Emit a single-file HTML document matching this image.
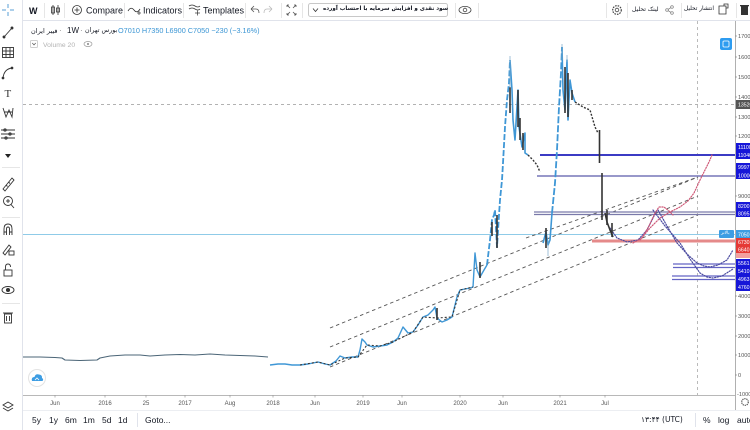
<!DOCTYPE html>
<html><head><meta charset="utf-8">
<style>
html,body{margin:0;padding:0;background:#fff;}
body{width:750px;height:430px;position:relative;overflow:hidden;font-family:"Liberation Sans","DejaVu Sans",sans-serif;}
.fa{position:absolute;font-family:"DejaVu Sans","Liberation Sans",sans-serif;direction:ltr;text-align:left;white-space:nowrap;color:#131722;line-height:1;}
svg{position:absolute;left:0;top:0;}
</style></head><body>
<svg width="750" height="430" viewBox="0 0 750 430" font-family="Liberation Sans, DejaVu Sans, sans-serif">
<rect width="750" height="430" fill="#fff"/>
<!-- frame lines -->
<line x1="22" y1="20.5" x2="750" y2="20.5" stroke="#e0e3eb"/>
<line x1="22.5" y1="0" x2="22.5" y2="430" stroke="#e0e3eb"/>
<line x1="23" y1="395.5" x2="735" y2="395.5" stroke="#b8b8b8"/>
<line x1="23" y1="410.5" x2="750" y2="410.5" stroke="#eceef2"/>
<line x1="735.5" y1="21" x2="735.5" y2="410" stroke="#b0b0b0"/>
<!-- left toolbar separators -->
<line x1="2" y1="167.5" x2="20" y2="167.5" stroke="#e6e6e6"/>
<line x1="2" y1="217.5" x2="20" y2="217.5" stroke="#e6e6e6"/>
<line x1="2" y1="303.5" x2="20" y2="303.5" stroke="#e6e6e6"/>

<!-- top toolbar -->
<g stroke="#5a9fd4" stroke-width="1">
<line x1="2" y1="10" x2="6" y2="10"/><line x1="10" y1="10" x2="14" y2="10"/>
<line x1="8" y1="4" x2="8" y2="8"/><line x1="8" y1="12" x2="8" y2="16"/>
</g>
<text x="29" y="14" font-size="9" font-weight="bold" fill="#131722">W</text>
<line x1="44.5" y1="3" x2="44.5" y2="18" stroke="#e6e6e6"/>
<g stroke="#333" fill="none" stroke-width="0.8">
<line x1="53" y1="5" x2="53" y2="15"/><rect x="51.5" y="7" width="3" height="6"/>
<line x1="58" y1="5" x2="58" y2="15"/><rect x="56.5" y="8" width="3" height="4"/>
</g>
<line x1="64.5" y1="3" x2="64.5" y2="18" stroke="#e6e6e6"/>
<circle cx="77" cy="10" r="4.5" fill="none" stroke="#333" stroke-width="0.8"/>
<line x1="74.5" y1="10" x2="79.5" y2="10" stroke="#333" stroke-width="0.8"/><line x1="77" y1="7.5" x2="77" y2="12.5" stroke="#333" stroke-width="0.8"/>
<text x="86" y="13.5" font-size="9" fill="#131722">Compare</text>
<line x1="124.5" y1="3" x2="124.5" y2="18" stroke="#e6e6e6"/>
<path d="M128 11 Q131 6 134 10 T140 9" fill="none" stroke="#333" stroke-width="0.8"/>
<line x1="137" y1="13" x2="141" y2="13" stroke="#333" stroke-width="0.7"/><line x1="139" y1="11" x2="139" y2="15" stroke="#333" stroke-width="0.7"/>
<text x="143" y="13.5" font-size="9" fill="#131722">Indicators</text>
<line x1="183.5" y1="3" x2="183.5" y2="18" stroke="#e6e6e6"/>
<path d="M189 6 Q192 4 195 6 T200 6 M189 9 Q192 7 195 9 T200 9" fill="none" stroke="#333" stroke-width="0.8"/>
<line x1="195" y1="13" x2="200" y2="13" stroke="#333" stroke-width="0.7"/><line x1="197.5" y1="10.5" x2="197.5" y2="15.5" stroke="#333" stroke-width="0.7"/>
<text x="203" y="13.5" font-size="9" fill="#131722">Templates</text>
<line x1="245.5" y1="3" x2="245.5" y2="18" stroke="#e6e6e6"/>
<path d="M251 9 L254 6 M251 9 L254 12 M251 9 H256 Q259 9 259 13" fill="none" stroke="#555" stroke-width="0.8"/>
<path d="M272 9 L269 6 M272 9 L269 12 M272 9 H267 Q264 9 264 13" fill="none" stroke="#bbb" stroke-width="0.8"/>
<line x1="281.5" y1="3" x2="281.5" y2="18" stroke="#e6e6e6"/>
<g stroke="#555" stroke-width="0.8" fill="none">
<path d="M287 5 L290 8 M287 5 h2 M287 5 v2"/><path d="M296 5 L293 8 M296 5 h-2 M296 5 v2"/>
<path d="M287 15 L290 12 M287 15 h2 M287 15 v-2"/><path d="M296 15 L293 12 M296 15 h-2 M296 15 v-2"/>
</g>
<line x1="302.5" y1="3" x2="302.5" y2="18" stroke="#e6e6e6"/>
<rect x="308.5" y="3.5" width="139" height="13" rx="2" fill="#fff" stroke="#c8c8c8"/>
<path d="M313 8.5 L315.5 11.5 L318 8.5" fill="none" stroke="#333" stroke-width="0.8"/>
<line x1="455.5" y1="3" x2="455.5" y2="18" stroke="#e6e6e6"/>
<ellipse cx="465" cy="10" rx="6" ry="3.6" fill="none" stroke="#444" stroke-width="0.8"/>
<circle cx="465" cy="10" r="1.8" fill="none" stroke="#444" stroke-width="0.8"/>
<line x1="478.5" y1="3" x2="478.5" y2="18" stroke="#e6e6e6"/>
<line x1="606.5" y1="3" x2="606.5" y2="18" stroke="#e6e6e6"/>
<circle cx="617" cy="10" r="4.3" fill="none" stroke="#444" stroke-width="1.2" stroke-dasharray="1.6 1"/>
<circle cx="617" cy="10" r="1.8" fill="none" stroke="#444" stroke-width="0.8"/>
<line x1="627.5" y1="3" x2="627.5" y2="18" stroke="#e6e6e6"/>
<g fill="none" stroke="#777" stroke-width="0.7">
<circle cx="667" cy="10" r="1.3"/><circle cx="672" cy="7" r="1.3"/><circle cx="672" cy="13" r="1.3"/>
<line x1="668" y1="9.4" x2="671" y2="7.6"/><line x1="668" y1="10.6" x2="671" y2="12.4"/>
</g>
<line x1="681.5" y1="3" x2="681.5" y2="18" stroke="#e6e6e6"/>
<path d="M719 6 H726 V14 H719 Z M724 6 V4 H728 V8 H726" fill="none" stroke="#333" stroke-width="0.8"/>
<line x1="736.5" y1="3" x2="736.5" y2="18" stroke="#e6e6e6"/>
<rect x="741" y="6" width="7" height="9" fill="#333"/><rect x="740" y="5" width="9" height="1.3" fill="#333"/>

<!-- left toolbar icons -->
<g stroke="#333" stroke-width="0.9" fill="none">
<line x1="4" y1="37" x2="12" y2="28"/><circle cx="4" cy="37" r="1" fill="#333"/><circle cx="12" cy="28" r="1" fill="#333"/>
<rect x="2.5" y="47.5" width="11" height="10"/><line x1="2.5" y1="51" x2="13.5" y2="51"/><line x1="2.5" y1="54.5" x2="13.5" y2="54.5"/><line x1="6" y1="47.5" x2="6" y2="57.5"/><line x1="10" y1="47.5" x2="10" y2="57.5"/>
<path d="M3 78 Q4 69 12 68"/><circle cx="3" cy="78" r="0.9" fill="#333"/><circle cx="12" cy="68" r="0.9" fill="#333"/>
<path d="M3 108 L6 117 L9 110 L12 117 L13 108 M4 112 L12 112"/>
<path d="M1 130 H15 M1 134 H15 M1 138 H15"/><circle cx="5" cy="130" r="1.2"/><circle cx="10" cy="134" r="1.2"/><circle cx="6" cy="138" r="1.2"/>
<path d="M3 189 L12 178 L14 180 L5 191 Z M6 185 l1.5 1.5 M8.5 182 l1.5 1.5"/>
<circle cx="8" cy="201" r="4.5"/><line x1="11" y1="204.5" x2="14" y2="208"/><line x1="6" y1="201" x2="10" y2="201"/><line x1="8" y1="199" x2="8" y2="203"/>
<path d="M4 235 V229 Q4 224 8 224 Q12 224 12 229 V235 M4 232 H6.5 M9.5 232 H12 M6.5 235 V229 Q6.5 227 8 227 Q9.5 227 9.5 229 V235"/>
<path d="M3 253 L9 245 L11 247 L5 255 Z"/><rect x="9" y="251" width="5" height="4"/>
<rect x="4" y="270" width="8" height="6"/><path d="M5.5 270 V267 Q5.5 264 8 264 Q10.5 264 10.5 267"/>
<ellipse cx="8" cy="290" rx="6" ry="3.5"/><circle cx="8" cy="290" r="1.6" fill="#333"/>
<rect x="4.5" y="314" width="7" height="9"/><line x1="3" y1="313" x2="13" y2="313"/><line x1="6.5" y1="316" x2="6.5" y2="321"/><line x1="9.5" y1="316" x2="9.5" y2="321"/>
<path d="M3 405 L8 402 L13 405 L8 408 Z M3 408 L8 411 L13 408"/>
</g>
<path d="M5 154 L11 154 L8 158 Z" fill="#222"/>
<text x="4.5" y="97" font-size="11" fill="#333" font-family="Liberation Serif, serif">T</text>

<!-- legend -->
<text x="59" y="33" font-size="8" fill="#888">·</text>
<text x="67" y="33" font-size="8" fill="#131722">1W</text>
<text x="80" y="33" font-size="8" fill="#888">·</text>
<text x="118" y="33" font-size="7.3" fill="#3a95d4">O7010 H7350 L6900 C7050 −230 (−3.16%)</text>
<rect x="30.5" y="40.5" width="7" height="7" rx="1" fill="#fff" stroke="#cfcfcf"/>
<path d="M32.3 43 L34 45 L35.7 43" fill="none" stroke="#555" stroke-width="0.7"/>
<text x="43" y="47" font-size="6.8" fill="#b3b3b3">Volume 20</text>
<ellipse cx="88" cy="44" rx="4" ry="2.5" fill="none" stroke="#999" stroke-width="0.7"/><circle cx="88" cy="44" r="1.1" fill="#999"/>

<!-- right axis ticks and labels -->
<g fill="#555" font-size="5.6">
<text x="738" y="38">17000</text><text x="738" y="59">16000</text><text x="738" y="79">15000</text>
<text x="738" y="99">14000</text><text x="738" y="119">13000</text><text x="738" y="138">12000</text>
<text x="738" y="198">9000</text><text x="738" y="298">4000</text><text x="738" y="318">3000</text>
<text x="738" y="338">2000</text><text x="738" y="357">1000</text><text x="738" y="377">0</text>
<text x="737" y="396">-1000</text>
</g>
<g stroke="#888" stroke-width="0.7">
<line x1="735" y1="36" x2="737" y2="36"/><line x1="735" y1="57" x2="737" y2="57"/><line x1="735" y1="77" x2="737" y2="77"/>
<line x1="735" y1="97" x2="737" y2="97"/><line x1="735" y1="117" x2="737" y2="117"/><line x1="735" y1="136" x2="737" y2="136"/>
<line x1="735" y1="196" x2="737" y2="196"/><line x1="735" y1="296" x2="737" y2="296"/><line x1="735" y1="316" x2="737" y2="316"/>
<line x1="735" y1="336" x2="737" y2="336"/><line x1="735" y1="355" x2="737" y2="355"/><line x1="735" y1="375" x2="737" y2="375"/>
</g>
<!-- blue icon top right -->
<rect x="720" y="38" width="12" height="12" rx="2" fill="#2e9cf0"/>
<rect x="723" y="41" width="6" height="6" rx="1" fill="none" stroke="#fff" stroke-width="0.8"/>

<!-- horizontal reference lines -->
<line x1="23" y1="104.5" x2="735" y2="104.5" stroke="#999" stroke-width="0.8" stroke-dasharray="3 3"/>
<line x1="697.5" y1="21" x2="697.5" y2="395" stroke="#aaa" stroke-width="0.8" stroke-dasharray="3 3"/>
<line x1="23" y1="234.5" x2="735" y2="234.5" stroke="#8fcbe8" stroke-width="1"/>

<!-- channel dashed lines -->
<g stroke="#555" stroke-width="0.9" stroke-dasharray="3.5 3" fill="none">
<line x1="330" y1="328" x2="698" y2="177"/>
<line x1="330" y1="347" x2="698" y2="196"/>
<line x1="330" y1="367" x2="698" y2="215"/>
<line x1="526" y1="238" x2="698" y2="177"/>
</g>

<!-- level lines -->
<line x1="540" y1="155" x2="735" y2="155" stroke="#3b3bc4" stroke-width="2"/>
<line x1="537" y1="176" x2="735" y2="176" stroke="#7676b8" stroke-width="1.6"/>
<line x1="534" y1="212" x2="735" y2="212" stroke="#7a7aaa" stroke-width="1.3"/>
<line x1="534" y1="214.5" x2="735" y2="214.5" stroke="#7a7aaa" stroke-width="1.3"/>
<line x1="592" y1="241" x2="735" y2="241" stroke="#e58a8a" stroke-width="3"/>
<g stroke="#6464c4" stroke-width="1.3">
<line x1="673" y1="264" x2="735" y2="264"/><line x1="673" y1="267.5" x2="735" y2="267.5"/>
<line x1="672" y1="276" x2="735" y2="276"/><line x1="672" y1="279.5" x2="735" y2="279.5"/>
</g>

<!-- projection dotted curves -->
<g fill="none" stroke-width="1.2" stroke-dasharray="1.2 1.5" stroke-linecap="round">
<polyline stroke="#4c4ca0" points="610,228 617,238 627,242 638,240 647,230 653,218 657,210"/>
<polyline stroke="#4c4ca0" points="658,210 667,226 677,243 687,254 697,263 704,266 710,267 718,265 727,260 733,250"/>
<polyline stroke="#4c4ca0" points="653,210 665,226 680,243 690,259 700,273 707,277 713,278 722,276 733,269"/>
<polyline stroke="#cf5a78" points="633,243 642,238 649,226 655,213 659,207 664,207 669,211 673,215"/>
<polyline stroke="#cf5a78" points="640,240 650,228 660,218 670,212 680,207 688,201 694,193 700,180 705,170 709,162 712,155"/>
</g>

<!-- price series -->
<g fill="none" stroke-linejoin="round">
<polyline stroke="#4b6577" stroke-width="1.1" points="23,357 40,357 55,357.5 62,358 65,360 80,360.5 97,360 100,358 110,356 125,355 140,355 150,356 165,355 180,354.5 195,355 210,354 225,355 240,355.5 255,356 268,357"/>
<polyline stroke="#3f97d6" stroke-width="1.4" points="270,365 278,364 285,364 292,365 300,365 308,364 318,362 325,364 330,365 336,361 340,356 345,358 352,357 358,357 360,350 362,339 365,342 367,345 373,347 380,346 387,345 393,342 398,338 403,327 408,333 413,332 418,325 423,317 428,315 433,310 435,307 437,318 442,322 447,320 452,317 455,305 457,297 460,290 465,289 470,288 473,287 475,253 477,270 480,277 484,270 487,265"/>
<polyline stroke="#333" stroke-width="1.1" stroke-dasharray="2 2" points="300,365 318,362 330,365 345,358 358,357 367,345 380,346 393,342 413,332 423,317 437,318 452,317 460,290 473,287"/>
<polyline stroke="#3f97d6" stroke-width="1.8" stroke-dasharray="6 2" points="487,265 490,240 492,220 494,215 495,210 497,247 499,215 500,200 502,180 503,163 505,127 507,100 509,83 510,60"/>
<polyline stroke="#3f97d6" stroke-width="1.6" points="510,60 512,90 513,120 515,140 518,90 519,127 522,147 525,133 525,153 528,155"/>
<polyline stroke="#333" stroke-width="1.4" stroke-dasharray="2 1.5" points="528,155 533,160 537,165 540,172"/>
<polyline stroke="#3f97d6" stroke-width="1.6" points="543,243 546,232 548,245 550,240 552,213"/>
<polyline stroke="#3f97d6" stroke-width="1.8" stroke-dasharray="7 2" points="552,213 555,183 557,150 559,107 561,73 562,47"/>
<polyline stroke="#3f97d6" stroke-width="1.6" points="562,47 563,90 565,110 567,60 568,120 570,80 572,93 575,102"/>
<polyline stroke="#333" stroke-width="1.4" stroke-dasharray="2 1.5" points="575,102 583,107 590,110 595,127 598,133"/>
<polyline stroke="#333" stroke-width="1.6" points="605,213 607,222 610,230 613,237"/>
</g>
<g stroke="#333" stroke-width="1.6">
<line x1="510" y1="87" x2="510" y2="113"/><line x1="518" y1="90" x2="518" y2="127"/>
<line x1="520" y1="118" x2="520" y2="140"/><line x1="523" y1="133" x2="523" y2="150"/>
<line x1="565" y1="67" x2="565" y2="113"/><line x1="568" y1="73" x2="568" y2="117"/>
<line x1="572" y1="90" x2="572" y2="100"/><line x1="599.5" y1="130" x2="599.5" y2="163"/>
<line x1="602" y1="173" x2="602" y2="220"/><line x1="607" y1="210" x2="607" y2="225"/>
<line x1="612" y1="223" x2="612" y2="237"/><line x1="437" y1="308" x2="437" y2="320"/>
<line x1="480" y1="262" x2="480" y2="278"/><line x1="497" y1="215" x2="497" y2="248"/>
<line x1="546" y1="228" x2="546" y2="248"/><line x1="492" y1="222" x2="492" y2="236"/>
</g>
<g stroke="#7aa8c8" stroke-width="0.7">
<line x1="510" y1="56" x2="510" y2="88"/><line x1="562" y1="44" x2="562" y2="60"/>
<line x1="548" y1="240" x2="548" y2="256"/><line x1="567" y1="55" x2="567" y2="62"/>
</g>

<!-- right axis price labels -->
<rect x="736" y="100" width="14" height="9" fill="#555"/>
<rect x="736" y="143" width="14" height="16" fill="#1616d8"/>
<rect x="736" y="163" width="14" height="16" fill="#1616d8"/>
<rect x="736" y="202" width="14" height="15" fill="#1616d8"/>
<rect x="736" y="230" width="14" height="8" fill="#3d9de3"/>
<rect x="719" y="230" width="15" height="8" rx="1" fill="#3d9de3"/>
<rect x="736" y="238" width="14" height="15" fill="#e53935"/>
<rect x="736" y="253" width="14" height="5" fill="#f3a0a0"/>
<rect x="736" y="259" width="14" height="32" fill="#1616d8"/>
<g fill="#fff" font-size="5.2">
<text x="738" y="106.5">13520</text>
<text x="738" y="149">11100</text><text x="738" y="157">11040</text>
<text x="738" y="169">9997</text><text x="738" y="177.5">10000</text>
<text x="738" y="208">8200</text><text x="738" y="215.5">8095</text>
<text x="738" y="236.5">7050</text>
<text x="738" y="244">6730</text><text x="738" y="251.5">6640</text>
<text x="738" y="265">5561</text><text x="738" y="273">5410</text>
<text x="738" y="281">4963</text><text x="738" y="289">4760</text>
</g>

<!-- time axis -->
<g fill="#555" font-size="6" text-anchor="middle">
<text x="55" y="405">Jun</text><text x="105" y="405">2016</text><text x="146" y="405">25</text>
<text x="185" y="405">2017</text><text x="230" y="405">Aug</text><text x="273" y="405">2018</text>
<text x="315" y="405">Jun</text><text x="363" y="405">2019</text><text x="402" y="405">Jun</text>
<text x="460" y="405">2020</text><text x="503" y="405">Jun</text><text x="560" y="405">2021</text>
<text x="605" y="405">Jul</text>
</g>
<g stroke="#999" stroke-width="0.7">
<line x1="55" y1="395" x2="55" y2="397.5"/><line x1="105" y1="395" x2="105" y2="397.5"/><line x1="146" y1="395" x2="146" y2="397.5"/>
<line x1="185" y1="395" x2="185" y2="397.5"/><line x1="230" y1="395" x2="230" y2="397.5"/><line x1="273" y1="395" x2="273" y2="397.5"/>
<line x1="315" y1="395" x2="315" y2="397.5"/><line x1="363" y1="395" x2="363" y2="397.5"/><line x1="402" y1="395" x2="402" y2="397.5"/>
<line x1="460" y1="395" x2="460" y2="397.5"/><line x1="503" y1="395" x2="503" y2="397.5"/><line x1="560" y1="395" x2="560" y2="397.5"/>
<line x1="605" y1="395" x2="605" y2="397.5"/>
</g>
<!-- gear at bottom-right -->
<circle cx="745" cy="402" r="3.3" fill="none" stroke="#555" stroke-width="1.2" stroke-dasharray="1.3 0.8"/>

<!-- cloud icon -->
<circle cx="37" cy="378" r="8.5" fill="#fff" stroke="#e3e3e3"/>
<path d="M32 381 Q31 377 34.5 377 Q35.5 373.5 39 374.5 Q42.5 375 42 378 Q44 379 42.5 381 Z" fill="#3d9de3"/>
<path d="M35 380 L37 378 L39 380" fill="none" stroke="#fff" stroke-width="0.8"/>

<!-- bottom bar -->
<g font-size="8.5" fill="#131722">
<text x="32" y="423">5y</text><text x="49" y="423">1y</text><text x="65" y="423">6m</text>
<text x="83" y="423">1m</text><text x="102" y="423">5d</text><text x="118" y="423">1d</text>
<text x="145" y="423">Goto...</text>
<text x="703" y="423">%</text><text x="718" y="423">log</text><text x="737" y="423">auto</text>
</g>
<line x1="137.5" y1="413" x2="137.5" y2="427" stroke="#e0e3eb"/>
<line x1="695.5" y1="413" x2="695.5" y2="427" stroke="#e0e3eb"/>
</svg>

<div class="fa" style="left:323px;top:7px;font-size:5.6px;font-weight:bold;">سود نقدی و افزایش سرمایه با احتساب آورده</div>
<div class="fa" style="left:632px;top:6.5px;font-size:6px;">لینک تحلیل</div>
<div class="fa" style="left:684px;top:6.5px;font-size:5.8px;">انتشار تحلیل</div>
<div class="fa" style="left:31px;top:27.5px;font-size:6.5px;">فیبر ایران</div>
<div class="fa" style="left:85px;top:27.5px;font-size:6.3px;">بورس تهران</div>
<div class="fa" style="left:721px;top:231.5px;font-size:4.3px;color:#fff;">بالاتر</div>
<div class="fa" style="left:641px;top:416px;font-size:7.5px;">۱۳:۴۴ (UTC)</div>
</body></html>
